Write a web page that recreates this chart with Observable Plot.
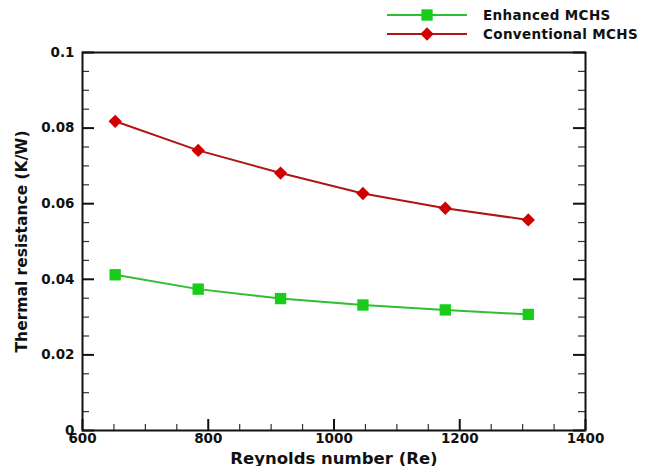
<!DOCTYPE html>
<html>
<head>
<meta charset="utf-8">
<script src="https://cdn.jsdelivr.net/npm/d3@7"></script>
<script src="https://cdn.jsdelivr.net/npm/@observablehq/plot@0.6"></script>
<style>
  body { margin: 0; background: #fff; font-family: "DejaVu Sans", sans-serif; }
  #legend { position: relative; height: 44px; width: 652px; }
  .row { position: absolute; left: 387px; height: 18px; display: flex; align-items: center; }
  .row span { font-weight: bold; font-size: 13.5px; letter-spacing: 0.35px; margin-left: 16px; color: #111; }
</style>
</head>
<body>
<div id="legend"></div>
<div id="chart"></div>
<script>
// Data
const reynolds = [652, 784, 915, 1046, 1177, 1309];
const enhanced = [0.0412, 0.0374, 0.0349, 0.0332, 0.0319, 0.0307];
const conventional = [0.0818, 0.0741, 0.0681, 0.0627, 0.0588, 0.0557];
const seriesNames = ["Enhanced MCHS", "Conventional MCHS"];
const seriesColors = {line: ["#2fbf2f", "#b01515"], fill: ["#19cc19", "#d00000"]};
const seriesSymbols = ["square", "diamond2"];
const xTicks = [600, 800, 1000, 1200, 1400];
const xMinor = [650, 700, 750, 850, 900, 950, 1050, 1100, 1150, 1250, 1300, 1350];
const yTicks = [0, 0.02, 0.04, 0.06, 0.08, 0.1];
const yMinor = [0.005, 0.01, 0.015, 0.025, 0.03, 0.035, 0.045, 0.05, 0.055, 0.065, 0.07, 0.075, 0.085, 0.09, 0.095];

const data = [];
reynolds.forEach((re, i) => {
  data.push({series: seriesNames[0], re, r: enhanced[i]});
  data.push({series: seriesNames[1], re, r: conventional[i]});
});

// Legend (HTML above the SVG)
const legend = document.getElementById("legend");
seriesNames.forEach((name, i) => {
  const row = document.createElement("div");
  row.className = "row";
  row.style.top = (6 + i * 19) + "px";
  const sw = d3.create("svg").attr("width", 80).attr("height", 18);
  sw.append("line").attr("x1", 0).attr("x2", 80).attr("y1", 9).attr("y2", 9)
    .attr("stroke", seriesColors.line[i]).attr("stroke-width", 2);
  const sym = i === 0 ? d3.symbolSquare : d3.symbolDiamond2;
  const size = Math.PI * (i === 0 ? 6.4 : 6.0) ** 2;
  sw.append("path").attr("d", d3.symbol(sym, size)()).attr("transform", "translate(40,9)")
    .attr("fill", seriesColors.fill[i]);
  row.appendChild(sw.node());
  const t = document.createElement("span");
  t.textContent = name;
  row.appendChild(t);
  legend.appendChild(row);
});

const W = 652, H = 422, mL = 82, mR = 67, mT = 8, mB = 36;
const pw = W - mL - mR, ph = H - mT - mB;

const chart = Plot.plot({
  width: W,
  height: H,
  marginLeft: mL,
  marginRight: mR,
  marginTop: mT,
  marginBottom: mB,
  style: {fontFamily: "DejaVu Sans", background: "#fff", color: "#111"},
  x: {domain: [600, 1400]},
  y: {domain: [0, 0.1]},
  color: {domain: seriesNames, range: seriesColors.line},
  marks: [
    // inward ticks
    Plot.tickY(yTicks, {y: d => d, insetRight: pw - 12, stroke: "#111", strokeWidth: 2}),
    Plot.tickY(yMinor, {y: d => d, insetRight: pw - 7, stroke: "#333", strokeWidth: 1.2}),
    Plot.tickY(yTicks, {y: d => d, insetLeft: pw - 12, stroke: "#111", strokeWidth: 2}),
    Plot.tickY(yMinor, {y: d => d, insetLeft: pw - 7, stroke: "#333", strokeWidth: 1.2}),
    Plot.tickX(xTicks, {x: d => d, insetTop: ph - 11, stroke: "#111", strokeWidth: 2}),
    Plot.tickX(xMinor, {x: d => d, insetTop: ph - 6, stroke: "#333", strokeWidth: 1.2}),
    Plot.axisY({ticks: yTicks, tickSize: 0, tickPadding: 8, tickFormat: d => String(d),
      fontSize: 13.5, fontWeight: "bold", style: {letterSpacing: "0.8px"}, label: null}),
    Plot.axisX({ticks: xTicks, tickSize: 0, tickPadding: 3, tickFormat: d => String(d),
      fontSize: 13.5, fontWeight: "bold", style: {letterSpacing: "0.8px"}, label: null}),
    Plot.axisX({ticks: [], label: "Reynolds number (Re)", labelAnchor: "center", labelArrow: "none",
      labelOffset: 33, fontSize: 16.5, fontWeight: "bold"}),
    Plot.axisY({ticks: [], label: "Thermal resistance (K/W)", labelAnchor: "center", labelArrow: "none",
      labelOffset: 67, fontSize: 15.5, fontWeight: "bold"}),
    Plot.line(data, {x: "re", y: "r", z: "series", stroke: "series", strokeWidth: 2}),
    Plot.dot(data.filter(d => d.series === seriesNames[0]), {x: "re", y: "r", symbol: seriesSymbols[0], r: 6.4, fill: seriesColors.fill[0], stroke: "none"}),
    Plot.dot(data.filter(d => d.series === seriesNames[1]), {x: "re", y: "r", symbol: seriesSymbols[1], r: 6.0, fill: seriesColors.fill[1], stroke: "none"}),
    Plot.frame({stroke: "#111", strokeWidth: 2})
  ]
});
document.getElementById("chart").appendChild(chart);
</script>
</body>
</html>
